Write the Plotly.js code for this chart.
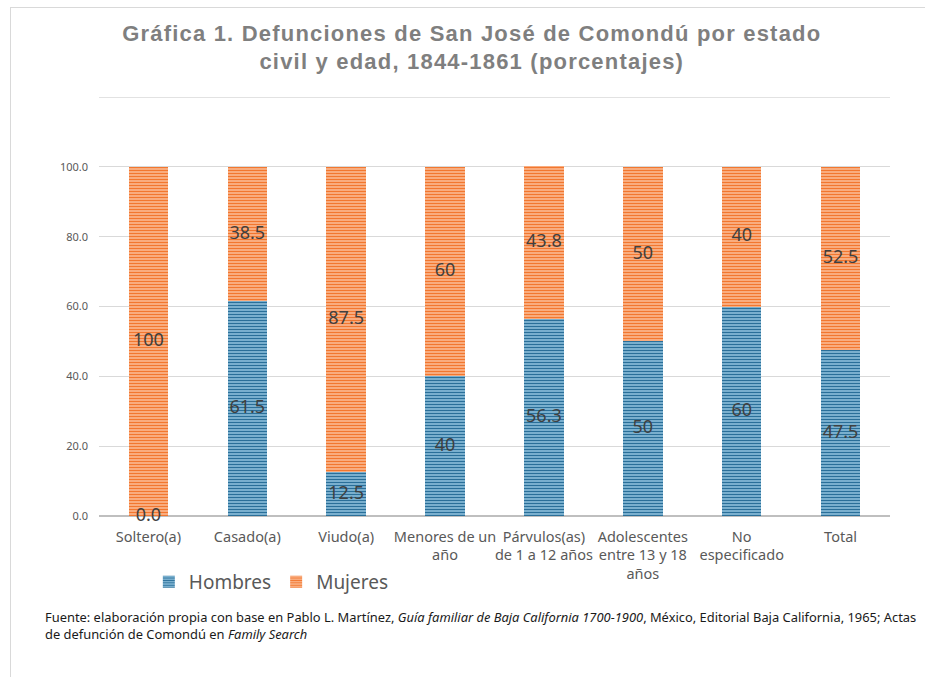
<!DOCTYPE html>
<html>
<head>
<meta charset="utf-8">
<script src="https://cdn.plot.ly/plotly-3.0.1.min.js"></script>
<style>
  html, body { margin: 0; padding: 0; background: #fff; }
  #wrap { position: relative; width: 925px; height: 677px; overflow: hidden; }
  #frame { position: absolute; left: 10px; top: 7px; width: 940px; height: 700px;
           border-left: 1.5px solid #d9d9d9; border-top: 1.5px solid #d9d9d9; pointer-events: none; }
  #chart { position: absolute; left: 0; top: 0; width: 925px; height: 677px; }
  .gtitle { letter-spacing: 1.2px; }
</style>
</head>
<body>
<div id="wrap">
  <div id="chart"></div>
  <div id="frame"></div>
</div>
<script>
const categories = ["Soltero(a)", "Casado(a)", "Viudo(a)", "Menores de un<br>año",
  "Párvulos(as)<br>de 1 a 12 años", "Adolescentes<br>entre 13 y 18<br>años",
  "No<br>especificado", "Total"];
const hombres = [0.0, 61.5, 12.5, 40, 56.3, 50, 60, 47.5];
const mujeres = [100, 38.5, 87.5, 60, 43.8, 50, 40, 52.5];
const hombresLabels = ["0.0", "61.5", "12.5", "40", "56.3", "50", "60", "47.5"];
const mujeresLabels = ["100", "38.5", "87.5", "60", "43.8", "50", "40", "52.5"];
const tickVals = [0, 20, 40, 60, 80, 100];
const tickText = ["0.0", "20.0", "40.0", "60.0", "80.0", "100.0"];
const yMax = 120;

const labelFont = { family: "Noto Sans, Open Sans, sans-serif", size: 18, color: "#404040" };

const traces = [
  {
    type: "bar", name: "Hombres", x: categories, y: hombres,
    marker: { color: "#8cbfdc", line: { width: 0 },
      pattern: { shape: "-", fgcolor: "#2a6f99", bgcolor: "#93c4e0", size: 3, solidity: 0.5 } },
    hoverinfo: "skip"
  },
  {
    type: "bar", name: "Mujeres", x: categories, y: mujeres,
    marker: { color: "#fbb48a", line: { width: 0 },
      pattern: { shape: "-", fgcolor: "#f2772f", bgcolor: "#fcbd98", size: 3, solidity: 0.5 } },
    hoverinfo: "skip"
  },
  {
    type: "scatter", mode: "text", x: categories,
    y: hombres.map(v => v / 2), text: hombresLabels,
    textposition: "middle center", textfont: labelFont,
    showlegend: false, hoverinfo: "skip", cliponaxis: false
  },
  {
    type: "scatter", mode: "text", x: categories,
    y: mujeres.map((v, i) => hombres[i] + v / 2), text: mujeresLabels,
    textposition: "middle center", textfont: labelFont,
    showlegend: false, hoverinfo: "skip", cliponaxis: false
  }
];

const layout = {
  width: 925, height: 677,
  margin: { l: 99, r: 35, t: 97, b: 161 },
  paper_bgcolor: "rgba(0,0,0,0)", plot_bgcolor: "rgba(0,0,0,0)",
  barmode: "stack", bargap: 0.6,
  font: { family: "Noto Sans, Open Sans, sans-serif", color: "#595959" },
  title: {
    text: "Gráfica 1. Defunciones de San José de Comondú por estado<br>civil y edad, 1844-1861 (porcentajes)",
    font: { family: "Liberation Sans, sans-serif", size: 22, color: "#7f7f7f", weight: "bold" },
    x: 0.51, xanchor: "center", y: 0.94, yanchor: "middle", yref: "container"
  },
  xaxis: {
    type: "category", showgrid: false, showline: false, zeroline: false,
    ticks: "", tickangle: 0, tickfont: { size: 14.5, color: "#595959" }, ticklabelstandoff: 10,
    fixedrange: true
  },
  yaxis: {
    range: [0, yMax], tickvals: tickVals, ticktext: tickText,
    showgrid: true, gridcolor: "#d9d9d9", gridwidth: 1.2,
    zeroline: true, zerolinecolor: "#bfbfbf", zerolinewidth: 1.5,
    showline: false, ticks: "", tickfont: { size: 11, color: "#595959" },
    ticklabelstandoff: 10, fixedrange: true
  },
  shapes: [
    { type: "line", xref: "paper", yref: "y", x0: 0, x1: 1, y0: yMax, y1: yMax,
      line: { color: "#d9d9d9", width: 1.5 } }
  ],
  legend: {
    orientation: "h", x: 0.063, xanchor: "left", y: -0.157, yanchor: "middle",
    font: { size: 19, color: "#595959" }, traceorder: "normal", itemwidth: 30
  },
  annotations: [
    {
      xref: "paper", yref: "paper", x: -0.071, y: -0.215, xanchor: "left", yanchor: "top",
      align: "left", showarrow: false,
      font: { size: 12.9, color: "#1a1a1a", family: "Noto Sans, Open Sans, sans-serif" },
      text: "Fuente: elaboración propia con base en Pablo L. Martínez, <i>Guía familiar de Baja California 1700-1900</i>, México, Editorial Baja California, 1965; Actas<br>de defunción de Comondú en <i>Family Search</i>"
    }
  ]
};

Plotly.newPlot("chart", traces, layout, { displayModeBar: false, staticPlot: true });
</script>
</body>
</html>
